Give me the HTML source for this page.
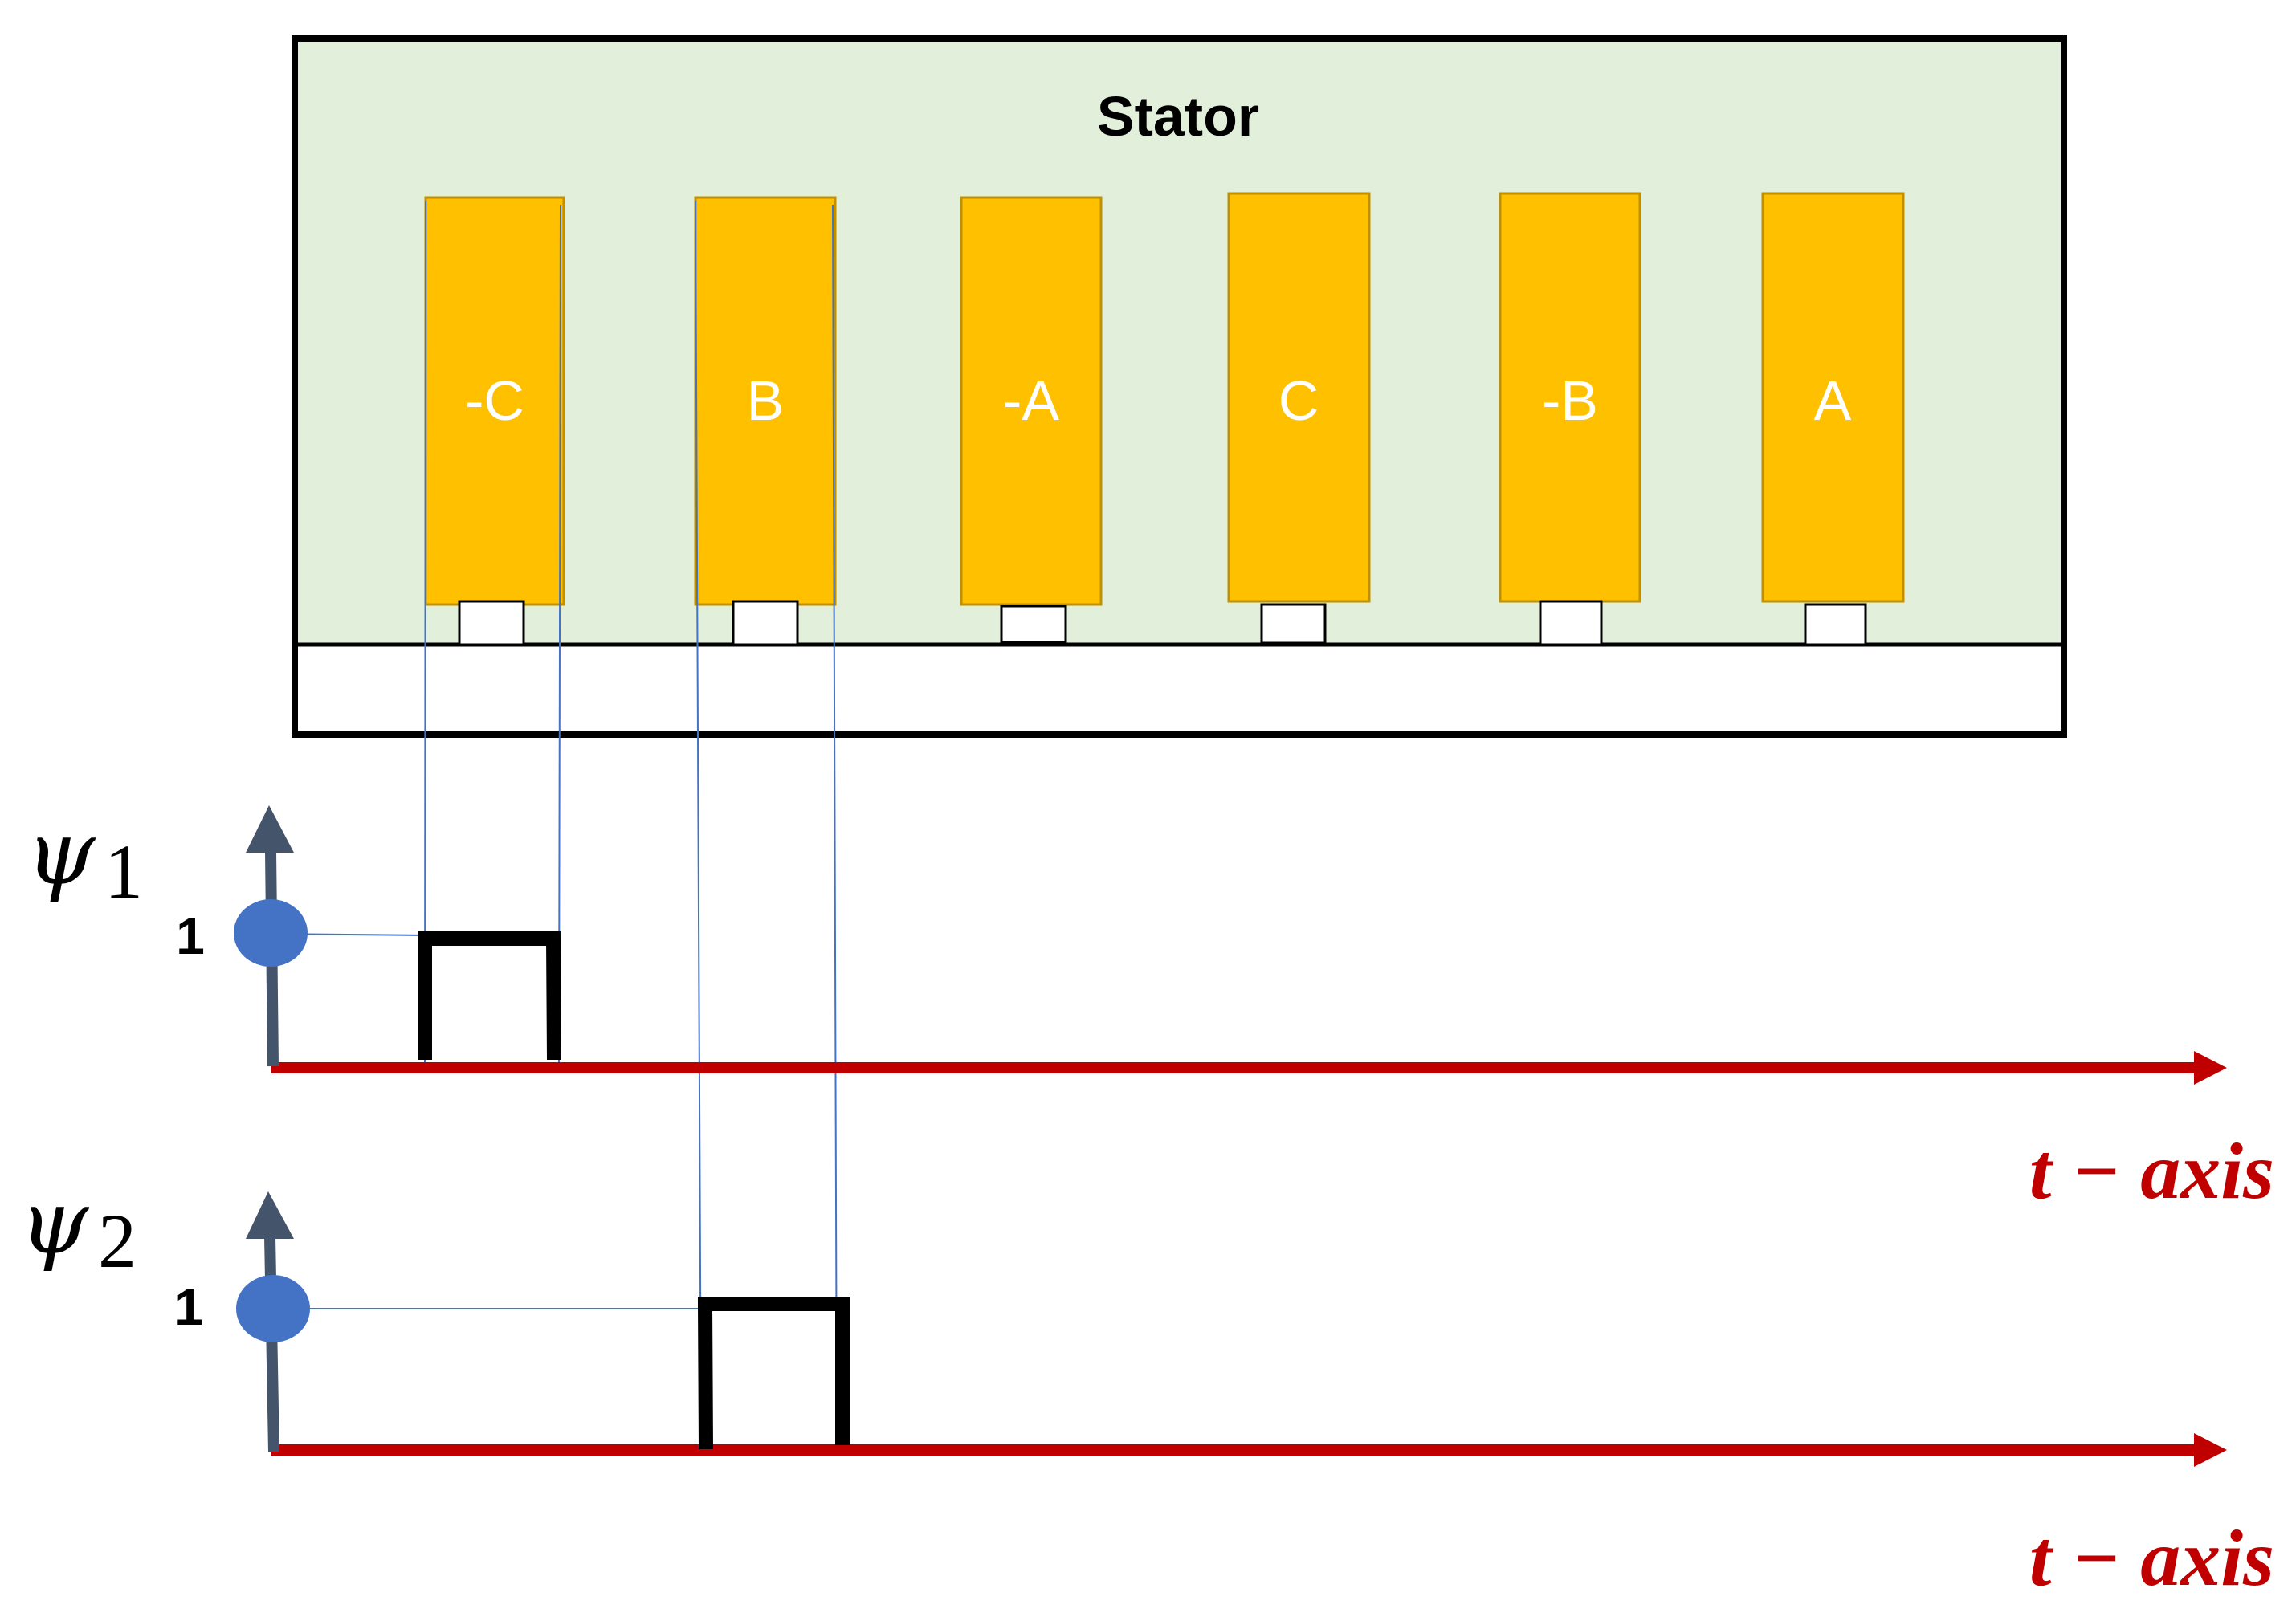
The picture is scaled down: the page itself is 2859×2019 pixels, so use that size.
<!DOCTYPE html>
<html><head><meta charset="utf-8"><style>html,body{margin:0;padding:0;background:#fff}svg{display:block}</style></head>
<body>
<svg width="2859" height="2019" viewBox="0 0 2859 2019" xmlns="http://www.w3.org/2000/svg">
<rect x="367" y="48" width="2203" height="867" fill="#e2efda" stroke="#000" stroke-width="8"/>
<rect x="367" y="803" width="2203" height="112" fill="#fff" stroke="#000" stroke-width="5"/>
<rect x="367" y="48" width="2203" height="867" fill="none" stroke="#000" stroke-width="8"/>
<text x="1467" y="169" text-anchor="middle" font-family="Liberation Sans, sans-serif" font-weight="bold" font-size="70">Stator</text>
<g fill="#ffc000" stroke="#bf9000" stroke-width="3">
<rect x="530" y="246" width="172" height="507"/>
<rect x="866" y="246" width="174" height="507"/>
<rect x="1197" y="246" width="174" height="507"/>
<rect x="1530" y="241" width="175" height="508"/>
<rect x="1868" y="241" width="174" height="508"/>
<rect x="2195" y="241" width="175" height="508"/>
</g>
<g fill="#fff" stroke="#000" stroke-width="3">
<rect x="572" y="749" width="80" height="54"/>
<rect x="913" y="749" width="80" height="54"/>
<rect x="1247" y="755" width="80" height="45"/>
<rect x="1571" y="753" width="79" height="48"/>
<rect x="1918" y="749" width="76" height="54"/>
<rect x="2248" y="753" width="75" height="50"/>
</g>
<g fill="#fff" font-family="Liberation Sans, sans-serif" font-size="70" text-anchor="middle">
<text x="616" y="523">-C</text>
<text x="953" y="523">B</text>
<text x="1284" y="523">-A</text>
<text x="1617" y="523">C</text>
<text x="1955" y="523">-B</text>
<text x="2282" y="523">A</text>
</g>
<g stroke="#4472c4" stroke-width="2" fill="none">
<line x1="530" y1="250" x2="529" y2="1325"/>
<line x1="698" y1="255" x2="696" y2="1325"/>
<line x1="866" y1="250" x2="873" y2="1806"/>
<line x1="1037" y1="255" x2="1042" y2="1806"/>
<line x1="337" y1="1163" x2="530" y2="1165"/>
<line x1="337" y1="1630" x2="877" y2="1630"/>
</g>
<line x1="337" y1="1330" x2="2735" y2="1330" stroke="#c00000" stroke-width="14"/>
<polygon points="2732,1309 2773,1330 2732,1351" fill="#c00000"/>
<line x1="337" y1="1060" x2="340" y2="1328" stroke="#44546a" stroke-width="14"/>
<polygon points="306,1062 366,1062 335,1003" fill="#44546a"/>
<ellipse cx="337" cy="1162" rx="46" ry="42" fill="#4472c4"/>
<text x="237" y="1188" text-anchor="middle" font-family="Liberation Sans, sans-serif" font-weight="bold" font-size="64">1</text>
<text x="32" y="1100" font-family="DejaVu Serif, Liberation Serif, serif" font-style="italic" font-size="110">ψ</text>
<text x="130" y="1118" font-family="Liberation Serif, serif" font-size="96">1</text>
<polyline points="529,1320 529,1169 689,1169 690,1320" fill="none" stroke="#000" stroke-width="18"/>
<text x="2832" y="1492" text-anchor="end" fill="#c00000" font-family="Liberation Serif, serif" font-weight="bold" font-style="italic" font-size="100">t − axis</text>
<line x1="337" y1="1806" x2="2735" y2="1806" stroke="#c00000" stroke-width="14"/>
<polygon points="2732,1785 2773,1806 2732,1827" fill="#c00000"/>
<line x1="336" y1="1540" x2="341" y2="1808" stroke="#44546a" stroke-width="14"/>
<polygon points="306,1543 366,1543 334,1484" fill="#44546a"/>
<ellipse cx="340" cy="1630" rx="46" ry="42" fill="#4472c4"/>
<text x="235" y="1650" text-anchor="middle" font-family="Liberation Sans, sans-serif" font-weight="bold" font-size="64">1</text>
<text x="24" y="1560" font-family="DejaVu Serif, Liberation Serif, serif" font-style="italic" font-size="110">ψ</text>
<text x="122" y="1578" font-family="Liberation Serif, serif" font-size="96">2</text>
<polyline points="879,1805 878,1624 1049,1624 1049,1800" fill="none" stroke="#000" stroke-width="18"/>
<text x="2832" y="1974" text-anchor="end" fill="#c00000" font-family="Liberation Serif, serif" font-weight="bold" font-style="italic" font-size="100">t − axis</text>
</svg>
</body></html>
